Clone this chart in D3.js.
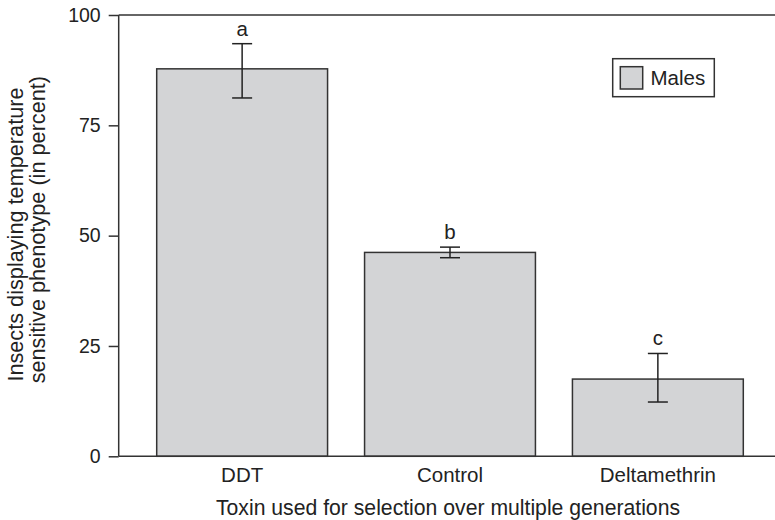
<!DOCTYPE html>
<html>
<head>
<meta charset="utf-8">
<script src="https://cdn.jsdelivr.net/npm/d3@7"></script>
<style>
  body { margin: 0; background: #fff; }
  svg { display: block; font-family: "Liberation Sans", Arial, sans-serif; }
</style>
</head>
<body>
<svg id="chart" width="775" height="520"></svg>
<script>
const categories = ["DDT", "Control", "Deltamethrin"];
const means = [87.8, 46.2, 17.5];
const errLow = [81.2, 45.0, 12.3];
const errHigh = [93.5, 47.4, 23.3];
const groupLetters = ["a", "b", "c"];
const yTicks = [0, 25, 50, 75, 100];
const seriesName = "Males";

const svg = d3.select("#chart");
const ink = "#222";
const fill = "#d3d4d6";

const x = d3.scaleBand().domain(categories).range([138.2, 761.8])
  .paddingInner(0.178).paddingOuter(0.089);
const y = d3.scaleLinear().domain([0, 100]).range([456.3, 15]);
const left = 118.7, right = 775;

// top frame line
svg.append("line").attr("x1", left).attr("x2", right)
  .attr("y1", y(100)).attr("y2", y(100))
  .attr("stroke", "#333").attr("stroke-width", 1.5);

// bars
svg.selectAll("rect.bar").data(categories).join("rect")
  .attr("class", "bar")
  .attr("x", d => x(d))
  .attr("width", x.bandwidth())
  .attr("y", (d, i) => y(means[i]))
  .attr("height", (d, i) => y(0) - y(means[i]))
  .attr("fill", fill).attr("stroke", "#333").attr("stroke-width", 1.5);

// error bars
const eb = svg.selectAll("g.err").data(categories).join("g").attr("class", "err")
  .attr("stroke", "#222").attr("stroke-width", 1.5);
eb.append("line")
  .attr("x1", d => x(d) + x.bandwidth() / 2).attr("x2", d => x(d) + x.bandwidth() / 2)
  .attr("y1", (d, i) => y(errLow[i])).attr("y2", (d, i) => y(errHigh[i]));
eb.append("line")
  .attr("x1", d => x(d) + x.bandwidth() / 2 - 10).attr("x2", d => x(d) + x.bandwidth() / 2 + 10)
  .attr("y1", (d, i) => y(errLow[i])).attr("y2", (d, i) => y(errLow[i]));
eb.append("line")
  .attr("x1", d => x(d) + x.bandwidth() / 2 - 10).attr("x2", d => x(d) + x.bandwidth() / 2 + 10)
  .attr("y1", (d, i) => y(errHigh[i])).attr("y2", (d, i) => y(errHigh[i]));

// group letters
svg.selectAll("text.letter").data(categories).join("text")
  .attr("class", "letter")
  .attr("x", d => x(d) + x.bandwidth() / 2)
  .attr("y", (d, i) => y(errHigh[i]) - 8)
  .attr("text-anchor", "middle")
  .attr("font-size", 20.5).attr("fill", ink)
  .text((d, i) => groupLetters[i]);

// y axis
const yAxis = svg.append("g").attr("transform", `translate(${left},0)`)
  .call(d3.axisLeft(y).tickValues(yTicks).tickSize(10).tickPadding(8).tickFormat(d3.format("d")));
yAxis.select(".domain").attr("stroke", "#333").attr("stroke-width", 1.5)
  .attr("d", `M0,${y(100)}V${y(0)}`);
yAxis.selectAll(".tick line").attr("stroke", "#333").attr("stroke-width", 1.5);
yAxis.selectAll(".tick text").attr("font-size", 19.5).attr("fill", ink)
  .attr("font-family", "Liberation Sans, Arial, sans-serif");

// x axis
const xAxis = svg.append("g").attr("transform", `translate(0,${y(0)})`)
  .call(d3.axisBottom(x).tickSize(0));
xAxis.select(".domain").attr("stroke", "#333").attr("stroke-width", 1.5)
  .attr("d", `M${left},0H${right}`);
xAxis.selectAll(".tick text").attr("font-size", 20.5).attr("fill", ink)
  .attr("y", 25.4).attr("dy", 0)
  .attr("font-family", "Liberation Sans, Arial, sans-serif");

// axis titles
svg.append("text").attr("x", 448).attr("y", 515)
  .attr("text-anchor", "middle").attr("font-size", 21.2).attr("fill", ink)
  .text("Toxin used for selection over multiple generations");
const yt = svg.append("text")
  .attr("transform", `translate(0,${(y(0) + y(100)) / 2}) rotate(-90)`)
  .attr("text-anchor", "middle").attr("font-size", 21.7).attr("fill", ink);
yt.append("tspan").attr("x", 1.1).attr("y", 22.5).text("Insects displaying temperature");
yt.append("tspan").attr("x", 6).attr("y", 45).text("sensitive phenotype (in percent)");

// legend
const lg = svg.append("g");
lg.append("rect").attr("x", 612.7).attr("y", 58.7).attr("width", 101.6).attr("height", 38)
  .attr("fill", "#fff").attr("stroke", "#333").attr("stroke-width", 1.5);
lg.append("rect").attr("x", 620.3).attr("y", 66.7).attr("width", 22.4).attr("height", 22.3)
  .attr("fill", fill).attr("stroke", "#333").attr("stroke-width", 1.5);
lg.append("text").attr("x", 650.5).attr("y", 85).attr("font-size", 20.5).attr("fill", ink)
  .text(seriesName);
</script>
</body>
</html>
